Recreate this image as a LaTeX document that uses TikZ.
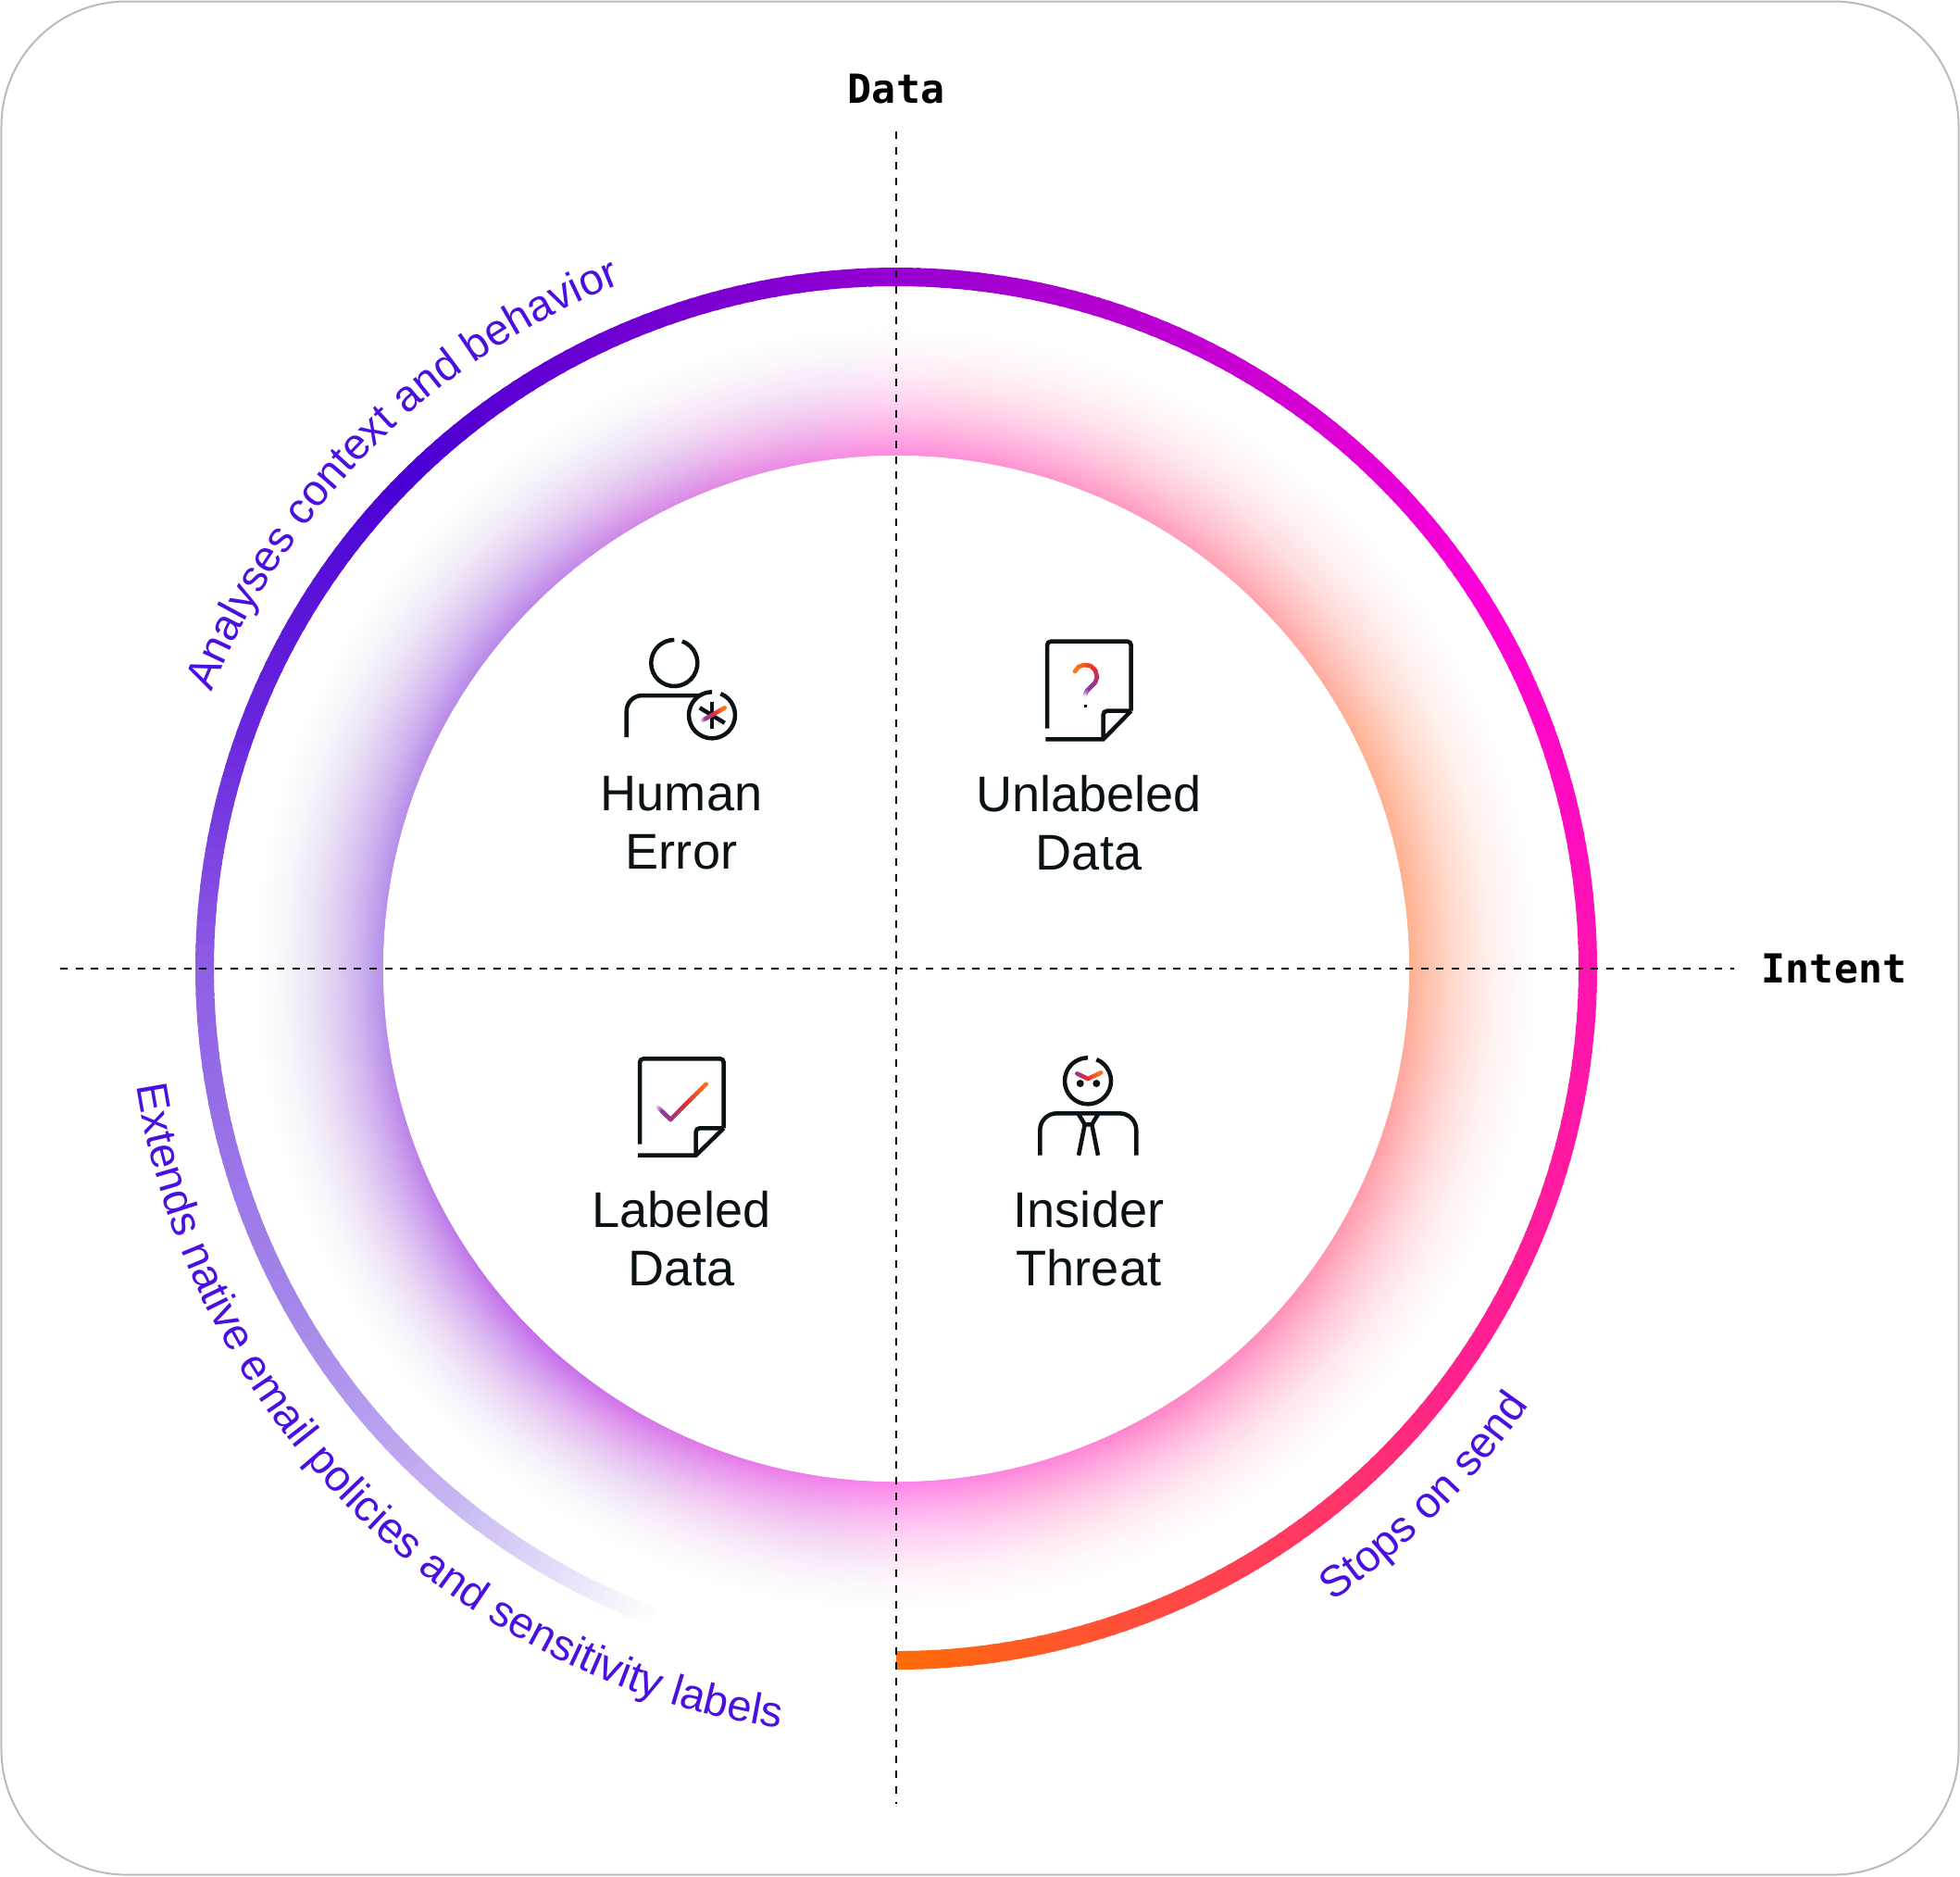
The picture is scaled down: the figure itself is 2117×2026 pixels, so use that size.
\documentclass[tikz,border=0pt]{standalone}
\usepackage{fontspec}
\setmainfont{Liberation Sans}
\newfontfamily\axisfont{DejaVu Sans Mono}
\usetikzlibrary{calc,decorations.text}

\definecolor{ringa}{HTML}{FF6A0A}
\definecolor{ringb}{HTML}{FF3F55}
\definecolor{ringc}{HTML}{FF2090}
\definecolor{ringd}{HTML}{FF14B0}
\definecolor{ringe}{HTML}{FF00D8}
\definecolor{ringf}{HTML}{C800D2}
\definecolor{ringg}{HTML}{9400D0}
\definecolor{ringh}{HTML}{4A00D4}
\definecolor{ringi}{HTML}{6A28DC}
\definecolor{ringj}{HTML}{8F5FE5}
\definecolor{ringk}{HTML}{A488EA}
\definecolor{ringl}{HTML}{C8B6F2}
\definecolor{glowa}{HTML}{FF80E8}
\definecolor{glowb}{HTML}{FF80C8}
\definecolor{glowc}{HTML}{FF92AE}
\definecolor{glowd}{HTML}{FFAE8C}
\definecolor{glowe}{HTML}{FF9CB8}
\definecolor{glowf}{HTML}{FF88E0}
\definecolor{glowg}{HTML}{B884E8}
\definecolor{glowh}{HTML}{B48EE8}
\definecolor{glowi}{HTML}{C068E8}
\definecolor{inkblack}{HTML}{0A1216}
\definecolor{curveviolet}{HTML}{4A10E0}
\definecolor{framegrey}{HTML}{BBBBBB}
\definecolor{iconpurple}{HTML}{8C3A9C}
\definecolor{iconred}{HTML}{E22C36}
\definecolor{iconorange}{HTML}{FF7418}

\newcommand{\curvefont}{\fontsize{13.4pt}{16pt}\selectfont}
\newcommand{\rampseg}[6]{%
  \foreach \t in {0,...,5}{%
    \pgfmathsetmacro\pct{(\t+0.5)*100/6}
    \draw[iconramp, color=#6!\pct!#5] ($(#1,#2)!{\t/6}!(#3,#4)$) -- ($(#1,#2)!{(\t+1)/6}!(#3,#4)$);
  }}

\tikzset{
  axisline/.style={line width=0.25mm, dash pattern=on 0.8mm off 0.87mm},
  axislabel/.style={font=\axisfont\bfseries\fontsize{12.3pt}{15pt}\selectfont, inner sep=0pt},
  ringseg/.style={line width=2mm},
  glowseg/.style={line width=17.6mm},
  iconline/.style={line width=0.45mm, draw=inkblack},
  iconramp/.style={line width=0.45mm, line cap=round},
  quadlabel/.style={font=\fontsize{15.4pt}{17.9pt}\selectfont, align=center, text=inkblack, inner sep=0pt},
}

\begin{document}
\begin{tikzpicture}[x=0.1mm, y=0.1mm]
    \useasboundingbox (0,0) rectangle (2117,-2026);
    \draw[framegrey, line width=0.2mm, fill=white, rounded corners=13.5mm] (1.5,-1.5) rectangle (2115.5,-2024.5);
    \coordinate (center) at (968,-1046);

    % glow: coloured sectors, then white rings over them
    \foreach \sa/\sb/\ca/\cb in {270/300/glowa/glowb, 300/325/glowb/glowc, 325/360/glowc/glowd, 360/385/glowd/glowd,
        385/415/glowd/glowe, 415/450/glowe/glowf, 450/495/glowf/glowg, 495/540/glowg/glowh, 540/585/glowh/glowi, 585/630/glowi/glowa}{
      \pgfmathtruncatemacro\angb{\sa+2}
      \pgfmathtruncatemacro\angz{\sb-1}
      \foreach \ang [evaluate=\ang as \pct using {(\ang-\sa)*100/(\sb-\sa)}] in {\sa,\angb,...,\angz}{
        \draw[glowseg, color=\cb!\pct!\ca] (center) ++(\ang:642) arc[start angle=\ang, delta angle=2.4, radius=642];
      }
    }
    \foreach \k in {1,...,40}{
      \pgfmathsetmacro\ringr{554+3.5*(\k-1)}
      \pgfmathsetmacro\ringop{1-((40-\k)/(41-\k))^2}
      \fill[white, opacity=\ringop, even odd rule] (center) circle[radius=\ringr] circle[radius=732];
    }
    \fill[white] (center) circle[radius=554];

    % outer ring
    \foreach \sa/\sb/\ca/\cb in {270/300/ringa/ringb, 300/325/ringb/ringc, 325/360/ringc/ringd, 360/392/ringd/ringe, 392/420/ringe/ringf,
        420/450/ringf/ringg, 450/495/ringg/ringh, 495/520/ringh/ringi, 520/540/ringi/ringj, 540/570/ringj/ringk, 570/590/ringk/ringl, 590/609/ringl/white}{
      \pgfmathtruncatemacro\angb{\sa+1}
      \pgfmathtruncatemacro\angz{\sb-1}
      \foreach \ang [evaluate=\ang as \pct using {(\ang-\sa)*100/(\sb-\sa)}] in {\sa,\angb,...,\angz}{
        \draw[ringseg, color=\cb!\pct!\ca] (center) ++(\ang:747) arc[start angle=\ang, delta angle=1.3, radius=747];
      }
    }

    % axes
    \coordinate (datatop) at (968,-142);
    \coordinate (databottom) at (968,-1948);
    \coordinate (intentleft) at (65,-1046);
    \coordinate (intentright) at (1873,-1046);
    \draw[axisline] (datatop) -- (databottom);
    \draw[axisline] (intentleft) -- (intentright);
    \node[axislabel] (data) at (968,-96) {Data};
    \node[axislabel] (intent) at (1981,-1046) {Intent};

    % curved labels
    \path[decorate, decoration={text along path, text align=center, text={|\curvefont\color{curveviolet}|Analyses context and behavior}}]
        (center) ++(180:797) arc[start angle=180, delta angle=-90, radius=797];
    \path[decorate, decoration={text along path, text align=center, text={|\curvefont\color{curveviolet}|Extends native email policies and sensitivity labels}}]
        (center) ++(180:830) arc[start angle=180, delta angle=90, radius=830];
    \path[decorate, decoration={text along path, text align=center, text={|\curvefont\color{curveviolet}|Stops on send}}]
        (center) ++(280:830) arc[start angle=280, delta angle=70, radius=830];

    % quadrant labels
    \node[quadlabel] (humanerror) at (736,-889) {Human\\Error};
    \node[quadlabel] (unlabeled) at (1176,-889) {Unlabeled\\Data};
    \node[quadlabel] (labeled) at (736,-1338) {Labeled\\Data};
    \node[quadlabel] (insider) at (1176,-1338) {Insider\\Threat};

    % human error icon
    \draw[iconline] (728.3,-716) ++(70:25) arc[start angle=70, delta angle=-340, radius=25];
    \draw[iconline] (676.7,-796) -- (676.7,-768) arc[start angle=180, delta angle=-90, radius=17] -- (755,-751);
    \draw[iconline] (769,-772.3) ++(68:25) arc[start angle=68, delta angle=-338, radius=25];
    \draw[iconline] (769,-758.3) -- (769,-787.3);
    \draw[iconline] (755.7,-764.3) -- (782.7,-780.7);
    \rampseg{758.3}{-778.3}{763}{-775.6}{white}{iconpurple}
    \rampseg{763}{-775.6}{773}{-769.9}{iconpurple}{iconred}
    \rampseg{773}{-769.9}{782.7}{-764.3}{iconred}{iconorange}

    % unlabeled data icon
    \draw[iconline, rounded corners=0.4mm] (1131,-786.7) -- (1131,-692.7) -- (1221.7,-692.7) -- (1221.7,-767.7);
    \draw[iconline] (1129.3,-798.3) -- (1191.7,-798.3) -- (1221.7,-767.7);
    \draw[iconline, rounded corners=0.4mm] (1191.7,-798.3) -- (1191.7,-767.7) -- (1221.7,-767.7);
    \rampseg{1161}{-725}{1165}{-720}{iconorange}{iconorange}
    \rampseg{1165}{-720}{1171}{-718}{iconorange}{iconorange!70!iconred}
    \rampseg{1171}{-718}{1178}{-719}{iconorange!70!iconred}{iconorange!40!iconred}
    \rampseg{1178}{-719}{1183}{-724}{iconorange!40!iconred}{iconred}
    \rampseg{1183}{-724}{1185}{-731}{iconred}{iconred!70!iconpurple}
    \rampseg{1185}{-731}{1183}{-737}{iconred!70!iconpurple}{iconred!40!iconpurple}
    \rampseg{1183}{-737}{1178}{-742}{iconred!40!iconpurple}{iconpurple}
    \rampseg{1178}{-742}{1174}{-746}{iconpurple}{iconpurple}
    \rampseg{1174}{-746}{1172}{-750}{iconpurple}{iconpurple!60!white}
    \rampseg{1172}{-750}{1172}{-754}{iconpurple!60!white}{white}
    \fill[inkblack] (1170.6,-761) rectangle (1174,-764.4);

    % labeled data icon
    \draw[iconline, rounded corners=0.4mm] (691,-1235.7) -- (691,-1143.3) -- (781.7,-1143.3) -- (781.7,-1218.3);
    \draw[iconline] (689,-1247.7) -- (751.7,-1247.7) -- (781.7,-1218.3);
    \draw[iconline, rounded corners=0.4mm] (751.7,-1247.7) -- (751.7,-1218.3) -- (781.7,-1218.3);
    \rampseg{710}{-1195}{716}{-1201}{white}{iconpurple}
    \rampseg{716}{-1201}{724.3}{-1209}{iconpurple}{iconpurple!80!iconred}
    \rampseg{724.3}{-1209}{742}{-1191}{iconpurple!80!iconred}{iconred}
    \rampseg{742}{-1191}{762.7}{-1170.7}{iconred}{iconorange}

    % insider threat icon
    \draw[iconline] (1175,-1167.3) ++(68:25) arc[start angle=68, delta angle=-338, radius=25];
    \rampseg{1163.3}{-1159.3}{1175}{-1165}{iconpurple}{iconred}
    \rampseg{1175}{-1165}{1189.3}{-1158.3}{iconred}{iconorange}
    \fill[inkblack] (1166.7,-1170) circle[radius=4];
    \fill[inkblack] (1184.3,-1170) circle[radius=4];
    \draw[iconline, rounded corners=1.8mm] (1123.3,-1247.7) -- (1123.3,-1202.3) -- (1227.3,-1202.3) -- (1227.3,-1247.7);
    \draw[iconline] (1165,-1203.3) -- (1171.7,-1214.3) -- (1179.3,-1214.3) -- (1186,-1203.3);
    \draw[iconline] (1171.7,-1214.3) -- (1165,-1247.7);
    \draw[iconline] (1179.3,-1214.3) -- (1186,-1247.7);
\end{tikzpicture}
\end{document}
